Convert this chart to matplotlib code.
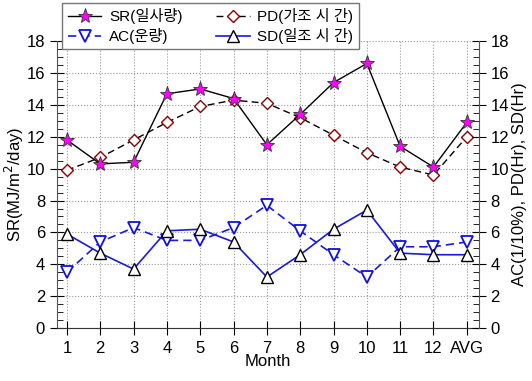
import matplotlib.pyplot as plt
from matplotlib.ticker import MultipleLocator

plt.rcParams['font.family'] = ['Liberation Sans', 'Noto Sans CJK KR', 'DejaVu Sans']
plt.rcParams['axes.unicode_minus'] = False

months = ['1', '2', '3', '4', '5', '6', '7', '8', '9', '10', '11', '12', 'AVG']
sr = [11.8, 10.3, 10.4, 14.7, 15.0, 14.4, 11.5, 13.4, 15.4, 16.6, 11.4, 10.1, 12.9]
pd_hr = [9.9, 10.7, 11.8, 12.9, 13.9, 14.3, 14.1, 13.2, 12.1, 11.0, 10.1, 9.6, 12.0]
ac = [3.5, 5.4, 6.3, 5.5, 5.5, 6.3, 7.7, 6.1, 4.6, 3.2, 5.1, 5.1, 5.4]
sd = [5.9, 4.7, 3.7, 6.1, 6.2, 5.4, 3.2, 4.6, 6.2, 7.4, 4.7, 4.6, 4.6]

x = list(range(1, len(months) + 1))

fig = plt.figure(figsize=(5.32, 3.81), dpi=100)
ax = fig.add_axes([0.107, 0.139, 0.793, 0.753])

ax.plot(x, sr, '-', color='black', lw=1, marker='*', ms=11, mfc='#ff00ff',
        mec='#333333', mew=0.6, label='SR(일사량)', zorder=5)
ax.plot(x, ac, '--', color='#1a1adc', lw=1.2, dashes=(5, 3), marker='v', ms=8, mfc='white',
        mec='#1010e0', mew=1.3, label='AC(운량)', zorder=4)
ax.plot(x, pd_hr, '--', color='black', lw=1, dashes=(5, 3), marker='D', ms=6, mfc='white',
        mec='#8b0000', mew=1, label='PD(가조 시 간)', zorder=4)
ax.plot(x, sd, '-', color='#1a1adc', lw=1.2, marker='^', ms=8, mfc='white',
        mec='black', mew=1, label='SD(일조 시 간)', zorder=4)

ax.set_xlim(0.7, 13.36)
ax.set_ylim(0, 18)
ax.set_xticks(x)
ax.set_xticklabels(months)
ax.yaxis.set_major_locator(MultipleLocator(2))
ax.yaxis.set_minor_locator(MultipleLocator(0.5))
ax.grid(True, which='major', ls=':', color='#999999', lw=0.8)

for s in ['top', 'right']:
    ax.spines[s].set_visible(False)
ax.spines['left'].set_color('#555555')
ax.spines['bottom'].set_color('#333333')

ax.tick_params(axis='both', which='major', direction='inout', length=10, labelsize=12,
               left=True, right=True, labelright=False)
ax.tick_params(axis='x', which='major', pad=4)
ax.tick_params(axis='y', which='minor', direction='in', length=4, left=True, right=True)

ax2 = ax.twinx()
ax2.set_ylim(0, 18)
ax2.yaxis.set_major_locator(MultipleLocator(2))
ax2.yaxis.set_minor_locator(MultipleLocator(0.5))
for s in ['top', 'left', 'bottom']:
    ax2.spines[s].set_visible(False)
ax2.spines['right'].set_color('#555555')
ax2.tick_params(axis='y', which='major', direction='inout', length=10, labelsize=12)
ax2.tick_params(axis='y', which='minor', direction='in', length=4)

ax.set_xlabel('Month', fontsize=12, labelpad=-1)
ax.set_ylabel('SR(MJ/m$^2$/day)', fontsize=12, labelpad=0)
ax2.set_ylabel('AC(1/10%), PD(Hr), SD(Hr)', fontsize=12, labelpad=2)

handles, labels = ax.get_legend_handles_labels()
leg = ax.legend(handles, labels, ncol=2,
                loc='upper left', bbox_to_anchor=(-0.005, 1.16), fontsize=11,
                frameon=True, fancybox=False, framealpha=1, edgecolor='#777777',
                handlelength=2.2, handletextpad=0.5, columnspacing=2.2,
                borderpad=0.35, labelspacing=0.25)
leg.get_frame().set_linewidth(1)
leg.set_zorder(10)

fig.savefig('out.png', dpi=100)
